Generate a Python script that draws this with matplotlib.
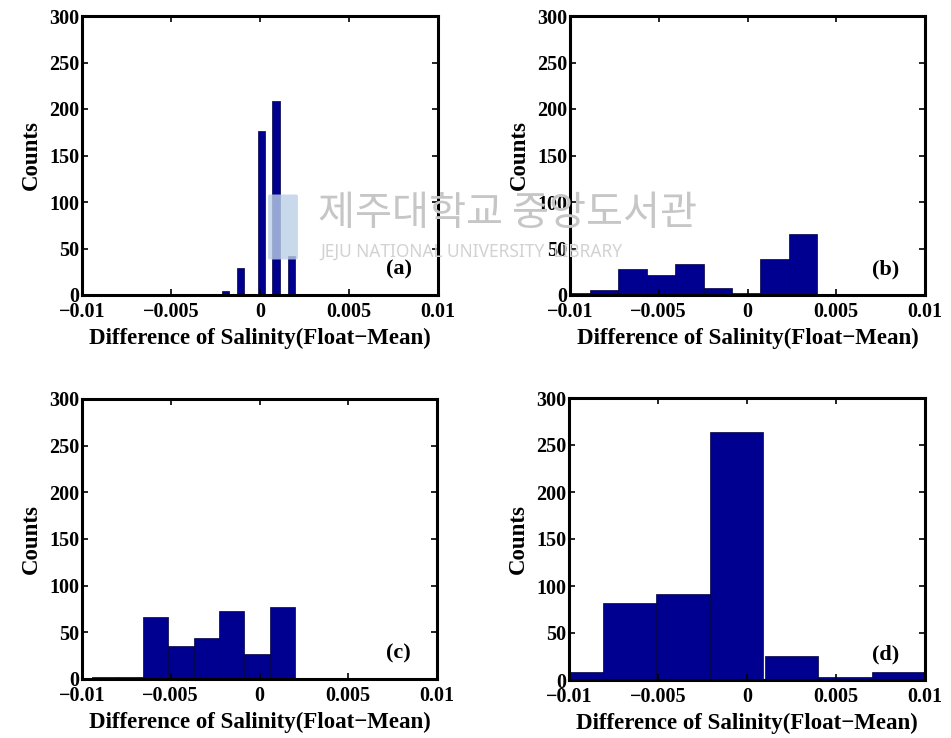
import numpy as np
import matplotlib
matplotlib.use('Agg')
import matplotlib.pyplot as plt
from matplotlib.patches import FancyBboxPatch

# histogram bars: bin centres, bin widths, counts
a_centers = [-0.00194, -0.00110, 0.00008, 0.00090, 0.00177]
a_counts = [4, 29, 176, 209, 42]
a_width = 0.00042

b_centers = [-0.00967, -0.00807, -0.00647, -0.00487, -0.00327, -0.00167, -0.00007, 0.00153, 0.00313]
b_counts = [2, 5, 28, 22, 33, 7, 2, 39, 66]
b_width = 0.0016

c_centers = [-0.01013, -0.00870, -0.00727, -0.00585, -0.00442, -0.00299, -0.00157, -0.00014, 0.00129]
c_counts = [1, 2, 2, 66, 35, 44, 73, 27, 77]
c_width = 0.00143

d_centers = [-0.0096, -0.0066, -0.0036, -0.0006, 0.0025, 0.0055, 0.0085]
d_counts = [8, 82, 92, 264, 26, 3, 8]
d_width = 0.003

xticks = [-0.01, -0.005, 0, 0.005, 0.01]
xticklabels = ['\u22120.01', '\u22120.005', '0', '0.005', '0.01']
yticks = [0, 50, 100, 150, 200, 250, 300]
panel_tags = ['(a)', '(b)', '(c)', '(d)']

plt.rcParams['font.family'] = 'Liberation Serif'
plt.rcParams['font.weight'] = 'bold'
plt.rcParams['axes.labelweight'] = 'bold'

fig = plt.figure(figsize=(9.51, 7.38), dpi=100)

# axes boxes in pixels: left, right, top, bottom
boxes = [(82, 438, 16, 295), (570, 925, 16, 295),
         (82, 437, 399, 679), (569, 925, 398, 680)]
data = [(a_centers, a_counts, a_width), (b_centers, b_counts, b_width),
        (c_centers, c_counts, c_width), (d_centers, d_counts, d_width)]

W, H = 951.0, 738.0

# faint library watermark behind the plots
fig.patches.append(FancyBboxPatch((270 / W, 1 - 258 / H), 26 / W, 62 / H,
                                  boxstyle='round,pad=0.002', transform=fig.transFigure,
                                  facecolor='#bcd0e8', edgecolor='none', alpha=0.8, zorder=0))
fig.text(318 / W, 1 - 213 / H, '제주대학교 중앙도서관', fontsize=29, color='#c6c6c6',
         family=['Noto Sans CJK KR', 'DejaVu Sans'], weight='normal', va='center', ha='left', zorder=0)
fig.text(320 / W, 1 - 252 / H, 'JEJU NATIONAL UNIVERSITY  LIBRARY', fontsize=12.5, color='#d2d2d2',
         family='Noto Sans', weight='normal', va='center', ha='left', zorder=0)

for i, (box, (cen, cnt, w)) in enumerate(zip(boxes, data)):
    l, r, t, b = box
    ax = fig.add_axes([l / W, 1 - b / H, (r - l) / W, (b - t) / H])
    ax.patch.set_alpha(0)
    ax.bar(cen, cnt, width=w, color='#000090', edgecolor='#000040', linewidth=0.5)
    ax.set_xlim(-0.01, 0.01)
    ax.set_ylim(0, 300)
    ax.set_xticks(xticks)
    ax.set_xticklabels(xticklabels)
    ax.set_yticks(yticks)
    ax.tick_params(direction='in', top=True, right=True, length=4, width=1.2,
                   labelsize=14.5, pad=2)
    ax.tick_params(axis='x', pad=5)
    for s in ax.spines.values():
        s.set_linewidth(2.2)
    ax.set_ylabel('Counts', fontsize=16.5, labelpad=5)
    ax.set_xlabel('Difference of Salinity(Float\u2212Mean)', fontsize=16.5, labelpad=4)
    ax.text(0.89, 0.09, panel_tags[i], transform=ax.transAxes, fontsize=16,
            ha='center', va='center')

fig.savefig('out.png', dpi=100)
